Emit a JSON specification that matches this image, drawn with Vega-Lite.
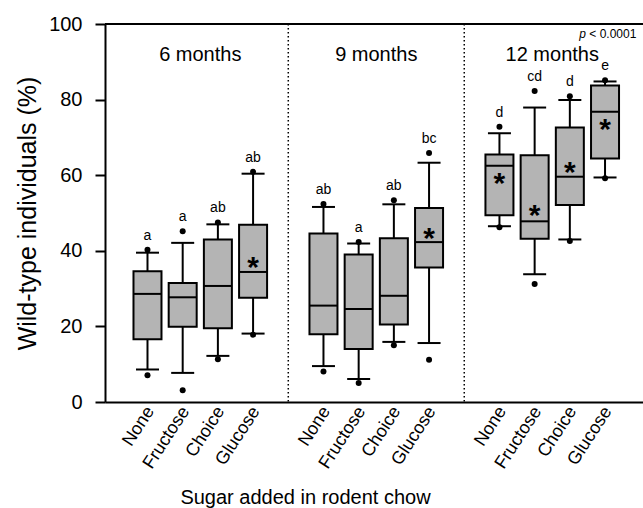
{
  "$schema": "https://vega.github.io/schema/vega-lite/v6.json",
  "width": 538,
  "height": 378,
  "autosize": {"type": "none"},
  "padding": {"left": 105, "top": 24, "right": 0, "bottom": 106},
  "config": {
    "view": {"stroke": null},
    "font": "Liberation Sans",
    "axis": {"grid": false}
  },
  "datasets": {
    "boxes": [
      {"month": "6 months", "sugar": "None", "lo_dot": 7.1, "lo": 8.6, "q1": 16.6, "median": 28.6, "q3": 34.6, "hi": 39.5, "hi_dot": 40.3, "letter": "a"},
      {"month": "6 months", "sugar": "Fructose", "lo_dot": 3.1, "lo": 7.7, "q1": 19.9, "median": 27.7, "q3": 31.5, "hi": 42.1, "hi_dot": 45.2, "letter": "a"},
      {"month": "6 months", "sugar": "Choice", "lo_dot": 11.3, "lo": 12.2, "q1": 19.5, "median": 30.7, "q3": 43.0, "hi": 47.0, "hi_dot": 47.5, "letter": "ab"},
      {"month": "6 months", "sugar": "Glucose", "lo_dot": 17.8, "lo": 18.1, "q1": 27.6, "median": 34.4, "q3": 46.9, "hi": 60.4, "hi_dot": 60.9, "letter": "ab", "mean": 36.9},
      {"month": "9 months", "sugar": "None", "lo_dot": 8.1, "lo": 9.5, "q1": 17.9, "median": 25.5, "q3": 44.6, "hi": 51.6, "hi_dot": 52.4, "letter": "ab"},
      {"month": "9 months", "sugar": "Fructose", "lo_dot": 5.0, "lo": 6.1, "q1": 14.0, "median": 24.6, "q3": 39.0, "hi": 41.9, "hi_dot": 42.3, "letter": "a"},
      {"month": "9 months", "sugar": "Choice", "lo_dot": 15.0, "lo": 15.9, "q1": 20.5, "median": 28.1, "q3": 43.3, "hi": 52.3, "hi_dot": 53.4, "letter": "ab"},
      {"month": "9 months", "sugar": "Glucose", "lo_dot": 11.2, "lo": 15.6, "q1": 35.6, "median": 42.3, "q3": 51.3, "hi": 63.3, "hi_dot": 65.9, "letter": "bc", "mean": 44.4},
      {"month": "12 months", "sugar": "None", "lo_dot": 46.2, "lo": 46.5, "q1": 49.4, "median": 62.5, "q3": 65.5, "hi": 71.1, "hi_dot": 72.8, "letter": "d", "mean": 59.1},
      {"month": "12 months", "sugar": "Fructose", "lo_dot": 31.2, "lo": 33.8, "q1": 43.2, "median": 47.8, "q3": 65.3, "hi": 77.9, "hi_dot": 82.3, "letter": "cd", "mean": 50.4},
      {"month": "12 months", "sugar": "Choice", "lo_dot": 42.6, "lo": 43.0, "q1": 52.1, "median": 59.6, "q3": 72.6, "hi": 79.9, "hi_dot": 80.9, "letter": "d", "mean": 61.8},
      {"month": "12 months", "sugar": "Glucose", "lo_dot": 59.2, "lo": 59.4, "q1": 64.4, "median": 76.8, "q3": 83.7, "hi": 84.8, "hi_dot": 85.1, "letter": "e", "mean": 73.4}
    ],
    "dividers": [{"key": "gap1"}, {"key": "gap2"}],
    "groups": [{"month": "6 months"}, {"month": "9 months"}, {"month": "12 months"}]
  },
  "layer": [
    {
      "data": {"name": "dividers"},
      "mark": {"type": "rule", "color": "black", "strokeWidth": 1.5, "strokeDash": [1.5, 2.5]},
      "encoding": {
        "x": {
          "field": "key", "type": "nominal",
          "scale": {
            "domain": ["6 months|None", "6 months|Fructose", "6 months|Choice", "6 months|Glucose", "gap1", "9 months|None", "9 months|Fructose", "9 months|Choice", "9 months|Glucose", "gap2", "12 months|None", "12 months|Fructose", "12 months|Choice", "12 months|Glucose"],
            "paddingInner": 0, "paddingOuter": 0.643, "align": 0.55
          },
          "axis": {
            "title": "Sugar added in rodent chow",
            "titleFontSize": 20, "titleFontWeight": "normal", "titleColor": "black",
            "titleX": 200, "titleY": 101, "titleAlign": "center", "titleBaseline": "alphabetic", "titleAnchor": null,
            "labelExpr": "indexof(datum.value, '|') >= 0 ? split(datum.value, '|')[1] : ''",
            "labelAngle": -57, "labelFontSize": 18, "labelColor": "black", "labelAlign": "right", "labelBaseline": "middle",
            "labelPadding": 6, "labelOffset": 3,
            "ticks": false, "domainColor": "black", "domainWidth": 2
          }
        }
      }
    },
    {
      "data": {"values": [{}]},
      "mark": {"type": "rule", "color": "black", "strokeWidth": 2},
      "encoding": {
        "y": {
          "datum": 100, "type": "quantitative",
          "scale": {"domain": [0, 100], "nice": false},
          "axis": {
            "title": "Wild-type individuals (%)",
            "titleFontSize": 25, "titleFontWeight": "normal", "titleColor": "black",
            "titleX": -78, "titleY": 189, "titleAngle": -90, "titleAlign": "center", "titleBaseline": "middle", "titleAnchor": null,
            "values": [0, 20, 40, 60, 80, 100],
            "labelFontSize": 20, "labelColor": "black", "labelPadding": 13,
            "tickSize": 10, "tickWidth": 2, "tickColor": "black",
            "domainColor": "black", "domainWidth": 2
          }
        }
      }
    },
    {
      "data": {"name": "boxes"},
      "transform": [{"calculate": "datum.month + '|' + datum.sugar", "as": "key"}],
      "layer": [
        {
          "mark": {"type": "rule", "color": "black", "strokeWidth": 2},
          "encoding": {
            "x": {"field": "key", "type": "nominal"},
            "y": {"field": "lo", "type": "quantitative"},
            "y2": {"field": "q1"}
          }
        },
        {
          "mark": {"type": "rule", "color": "black", "strokeWidth": 2},
          "encoding": {
            "x": {"field": "key", "type": "nominal"},
            "y": {"field": "q3", "type": "quantitative"},
            "y2": {"field": "hi"}
          }
        },
        {
          "mark": {"type": "bar", "fill": "#b4b4b4", "stroke": "black", "strokeWidth": 2, "size": 28},
          "encoding": {
            "x": {"field": "key", "type": "nominal"},
            "y": {"field": "q1", "type": "quantitative"},
            "y2": {"field": "q3"}
          }
        },
        {
          "mark": {"type": "tick", "color": "black", "size": 28, "thickness": 2, "opacity": 1},
          "encoding": {
            "x": {"field": "key", "type": "nominal"},
            "y": {"field": "median", "type": "quantitative"}
          }
        },
        {
          "mark": {"type": "tick", "color": "black", "size": 23, "thickness": 2, "opacity": 1},
          "encoding": {
            "x": {"field": "key", "type": "nominal"},
            "y": {"field": "lo", "type": "quantitative"}
          }
        },
        {
          "mark": {"type": "tick", "color": "black", "size": 23, "thickness": 2, "opacity": 1},
          "encoding": {
            "x": {"field": "key", "type": "nominal"},
            "y": {"field": "hi", "type": "quantitative"}
          }
        },
        {
          "mark": {"type": "point", "filled": true, "color": "black", "size": 36, "opacity": 1},
          "encoding": {
            "x": {"field": "key", "type": "nominal"},
            "y": {"field": "lo_dot", "type": "quantitative"}
          }
        },
        {
          "mark": {"type": "point", "filled": true, "color": "black", "size": 36, "opacity": 1},
          "encoding": {
            "x": {"field": "key", "type": "nominal"},
            "y": {"field": "hi_dot", "type": "quantitative"}
          }
        },
        {
          "mark": {"type": "text", "fontSize": 14, "color": "black", "baseline": "alphabetic", "dy": -10},
          "encoding": {
            "x": {"field": "key", "type": "nominal"},
            "y": {"field": "hi_dot", "type": "quantitative"},
            "text": {"field": "letter"}
          }
        },
        {
          "transform": [{"filter": "isValid(datum.mean)"}],
          "mark": {"type": "text", "fontSize": 30, "fontWeight": "bold", "color": "black", "baseline": "alphabetic", "dy": 14},
          "encoding": {
            "x": {"field": "key", "type": "nominal"},
            "y": {"field": "mean", "type": "quantitative"},
            "text": {"value": "*"}
          }
        }
      ]
    },
    {
      "data": {"name": "groups"},
      "transform": [{"calculate": "datum.month + '|Fructose'", "as": "key"}],
      "mark": {"type": "text", "fontSize": 20, "color": "black", "align": "center", "baseline": "alphabetic"},
      "encoding": {
        "x": {"field": "key", "type": "nominal", "bandPosition": 1},
        "y": {"datum": 90.2, "type": "quantitative"},
        "text": {"field": "month"}
      }
    },
    {
      "data": {"values": [{"label": "p"}]},
      "mark": {"type": "text", "fontSize": 12, "fontStyle": "italic", "color": "black", "align": "right", "baseline": "alphabetic", "dx": -36.6},
      "encoding": {
        "x": {"datum": "12 months|Glucose", "type": "nominal", "bandPosition": 1},
        "y": {"datum": 96.4, "type": "quantitative"},
        "text": {"field": "label"}
      }
    },
    {
      "data": {"values": [{"label": "< 0.0001"}]},
      "mark": {"type": "text", "fontSize": 12, "color": "black", "align": "left", "baseline": "alphabetic", "dx": -33.3},
      "encoding": {
        "x": {"datum": "12 months|Glucose", "type": "nominal", "bandPosition": 1},
        "y": {"datum": 96.4, "type": "quantitative"},
        "text": {"field": "label"}
      }
    }
  ]
}
